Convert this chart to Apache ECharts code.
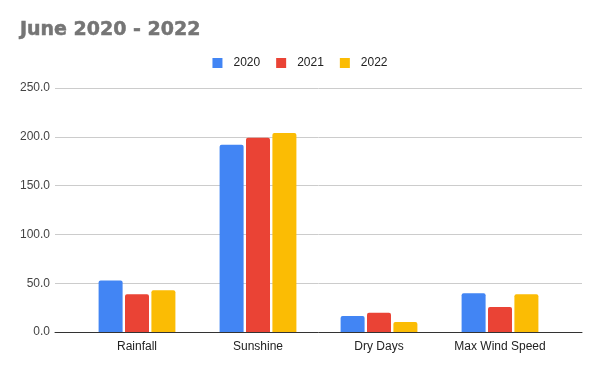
<!DOCTYPE html>
<html><head><meta charset="utf-8">
<script src="https://cdn.jsdelivr.net/npm/echarts@6/dist/echarts.min.js"></script>
<style>html,body{margin:0;padding:0;background:#fff;}#c{width:600px;height:371px;}</style>
</head><body><div id="c"></div>
<script>
const categories = ['Rainfall', 'Sunshine', 'Dry Days', 'Max Wind Speed'];
const seriesNames = ['2020', '2021', '2022'];
const values2020 = [52.7, 191.8, 16.3, 39.8];
const values2021 = [38.8, 199.0, 19.7, 25.5];
const values2022 = [42.9, 204.0, 10.2, 38.8];
const yTicks = [0, 50, 100, 150, 200, 250];

const colors = ['#4285F4', '#EA4335', '#FBBC04'];
const allValues = [values2020, values2021, values2022];
const chart = echarts.init(document.getElementById('c'), null, {renderer: 'canvas'});
const font = 'Arial, "Liberation Sans", sans-serif';
chart.setOption({
  animation: false,
  title: {
    text: 'June 2020 - 2022', left: 15, top: 16,
    textStyle: {fontFamily: '"DejaVu Sans", sans-serif', fontWeight: 'bold', fontSize: 19, color: '#757575',
      textBorderColor: '#757575', textBorderWidth: 0.5}
  },
  legend: {
    top: 52, left: 'center', itemWidth: 10, itemHeight: 10, itemGap: 16,
    icon: 'rect',
    textStyle: {fontFamily: font, fontSize: 12, color: '#222', padding: [0, 0, 0, 6]},
    data: seriesNames
  },
  grid: [
    {left: 55, right: 18, top: 88, bottom: 39},
    {left: 76.5, right: 39.5, top: 88, bottom: 39}
  ],
  xAxis: [
    {gridIndex: 0, type: 'category', data: [''], axisTick: {show: false}, axisLabel: {show: false},
     axisLine: {lineStyle: {color: '#333', width: 1}}},
    {gridIndex: 1, type: 'category', data: categories, axisTick: {show: false}, axisLine: {show: false},
     axisLabel: {fontFamily: font, fontSize: 12, color: '#222', margin: 9}}
  ],
  yAxis: [
    {gridIndex: 0, type: 'value', min: yTicks[0], max: yTicks[yTicks.length - 1], interval: 50,
     axisLine: {show: false}, axisTick: {show: false},
     axisLabel: {fontFamily: font, fontSize: 12, color: '#444', margin: 5, formatter: v => v.toFixed(1)},
     splitLine: {lineStyle: {color: '#cccccc', width: 1}}},
    {gridIndex: 1, type: 'value', min: yTicks[0], max: yTicks[yTicks.length - 1], interval: 50, show: false,
     splitLine: {show: false}}
  ],
  series: seriesNames.map((n, i) => ({
    name: n, type: 'bar', xAxisIndex: 1, yAxisIndex: 1,
    data: allValues[i], barWidth: 24, barGap: '10%',
    itemStyle: {color: colors[i], borderRadius: [2, 2, 0, 0]}
  }))
});
</script></body></html>
